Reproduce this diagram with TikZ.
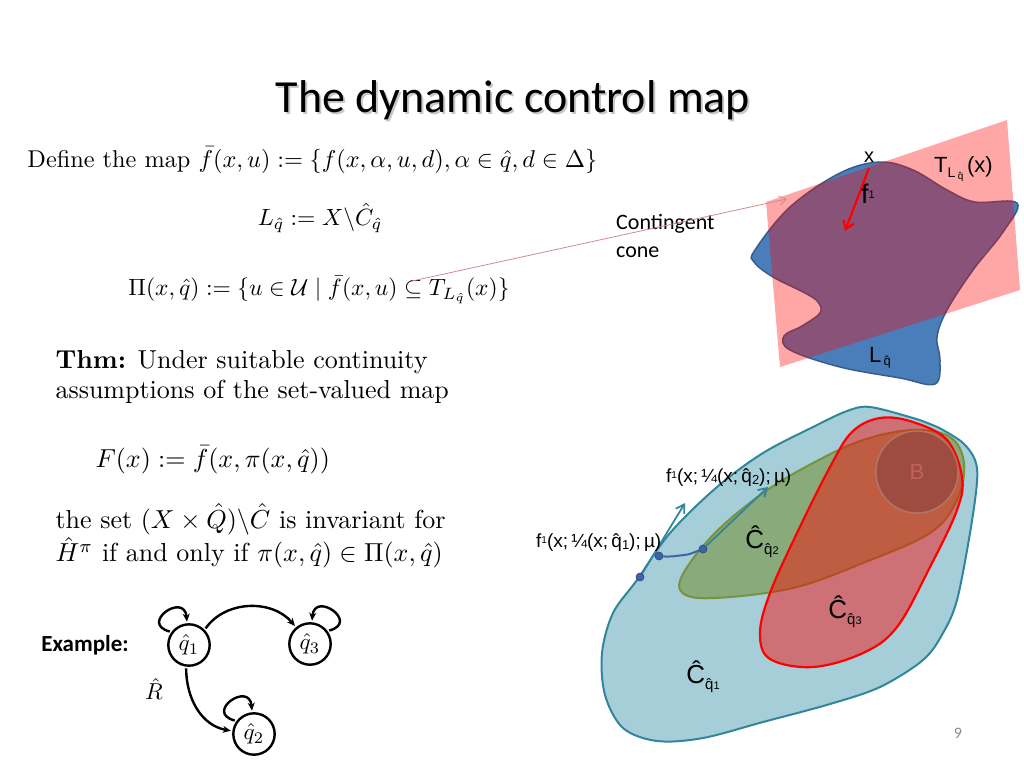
\documentclass[tikz,border=0pt]{standalone}
\usepackage{fontspec}
\usepackage{amssymb}
\usetikzlibrary{arrows.meta,positioning,calc}
\newfontfamily\slidefont{Carlito}
\newfontfamily\figfont{Liberation Sans}
\definecolor{txt}{HTML}{000000}
\definecolor{lqF}{HTML}{4A7EBB}
\definecolor{lqB}{HTML}{385D8A}
\definecolor{tgR}{HTML}{FF0000}
\definecolor{c1F}{HTML}{A5CED8}
\definecolor{c1B}{HTML}{31859C}
\definecolor{c2F}{HTML}{77933C}
\definecolor{c3B}{HTML}{FF0000}
\definecolor{bdF}{HTML}{96483F}
\definecolor{bdT}{HTML}{C0625A}
\definecolor{trB}{HTML}{3C64A8}
\definecolor{ccR}{HTML}{D08C8C}
\definecolor{pgG}{HTML}{8C8C8C}
\newcommand{\qsub}[1]{\raisebox{-6pt}{\fontsize{15}{15}\selectfont\^q\fontsize{11}{11}\selectfont#1}}

\begin{document}
\begin{tikzpicture}[x=1pt,y=-1pt,
  text=txt,
  mth/.style={inner sep=0pt,font=\fontsize{10}{12}\selectfont,scale=2.35,transform shape},
  thm/.style={mth,scale=2.6/2.35,font=\fontsize{10}{11.8}\selectfont},
  fig/.style={inner sep=0pt,font=\figfont\fontsize{19}{19}\selectfont},
  state/.style={circle,draw,line width=2.4pt,minimum size=18pt,inner sep=0pt,
    font=\fontsize{10}{10}\selectfont,scale=2.3,transform shape},
  aut/.style={line width=2.4pt,-{Stealth[length=8pt,width=7pt]}},
  vec/.style={c1B,line width=1.8pt,-{Straight Barb[length=8pt,width=10pt]}},
  dot/.style={circle,fill=trB,draw=trB!70!black,line width=0.6pt,inner sep=0pt,minimum size=8pt},
  ]
\useasboundingbox (0,0) rectangle (1024,768);

% ================= title =================
\node[font=\slidefont\fontsize{46}{46}\selectfont,text=black!22] at (515,102) {The dynamic control map};
\node[font=\slidefont\fontsize{46}{46}\selectfont] (ttl) at (513,100) {The dynamic control map};

% ================= LEFT: definitions =================
\node[mth,scale=2.43/2.35,anchor=west] (def) at (27,160)
  {Define the map $\bar f(x,u):=\{f(x,\alpha,u,d),\alpha\in\hat q,d\in\Delta\}$};
\node[mth] (lq) at (320,218) {$L_{\hat q}:=X\backslash\hat C_{\hat q}$};
\node[mth] (pi) at (319,290) {$\Pi(x,\hat q):=\{u\in\mathcal U\mid\bar f(x,u)\subseteq T_{L_{\hat q}}(x)\}$};

\node[thm,anchor=west,align=left] (thm) at (55,377)
  {\textbf{Thm:} Under suitable continuity\\assumptions of the set-valued map};
\node[thm,anchor=west] (fx) at (95,460) {$F(x):=\bar f(x,\pi(x,\hat q))$};
\node[thm,anchor=west,align=left] (inv) at (55,536)
  {the set $(X\times\hat Q)\backslash\hat C$ is invariant for\\$\hat H^\pi$ if and only if $\pi(x,\hat q)\in\Pi(x,\hat q)$};

% ================= automaton =================
\node[font=\slidefont\bfseries\fontsize{23}{23}\selectfont] (ex) at (85,645) {Example:};
\node[state] (q1) at (189,645) {$\hat q_1$};
\node[state] (q3) at (310,644) {$\hat q_3$};
\node[state] (q2) at (254,734) {$\hat q_2$};
\draw[aut] (q1.45) to[out=55,in=130] (q3.130);
\draw[aut] (q1.-97) to[out=-90,in=170] (q2.172);
\draw[aut] (q1.145) .. controls +(-165:32) and +(-95:30) .. (q1.95);
\draw[aut] (q3.35) .. controls +(-15:32) and +(-85:30) .. (q3.85);
\draw[aut] (q2.145) .. controls +(-165:32) and +(-95:30) .. (q2.95);
\node[mth,scale=2.3/2.35] (rh) at (154,689) {$\hat R$};

% ================= RIGHT TOP: tangent cone =================
\draw[lqB,fill=lqF,line width=1.5pt] plot[smooth cycle,tension=0.6] coordinates {
  (755,250) (790,207) (840,173) (880,162) (913,170) (947,190) (975,202) (1017,203)
  (1003,232) (973,270) (947,310) (937,337) (940,360) (935,384) (900,378) (840,367)
  (790,350) (784,336) (802,326) (820,313) (818,302) (805,293) (773,277) (754,262)};
\fill[tgR,opacity=.35] (766,202) -- (1007,120) -- (1020,290) -- (780,367) -- cycle;
\node[fig,font=\figfont\fontsize{20}{20}\selectfont] (xl) at (869,157) {x};
\coordinate (xpt) at (869,168);
\coordinate (fEnd) at (845,231);
\draw[tgR,line width=2.2pt,-{Straight Barb[length=8pt,width=11pt]}] (xpt) -- (fEnd);
\node[fig,font=\figfont\fontsize{27}{27}\selectfont] (fl) at (868,194) {f\raisebox{5pt}{\fontsize{11}{11}\selectfont 1}};
\node[fig,font=\figfont\fontsize{22}{22}\selectfont,anchor=west] (tl) at (934,169)
  {T\raisebox{-5pt}{\fontsize{14}{14}\selectfont L\,\raisebox{-2pt}{\fontsize{10}{10}\selectfont\^q}}\,(x)};
\node[fig,font=\figfont\fontsize{22}{22}\selectfont,anchor=west] (ll) at (869,358)
  {L\raisebox{-3pt}{\fontsize{13}{13}\selectfont\,\^q}};

\node[inner sep=0pt,anchor=north west,align=left,font=\slidefont\fontsize{22}{28}\selectfont] (cc) at (616,214) {Contingent\\cone};
\coordinate (ccTail) at (412,281);
\coordinate (ccTip) at (787,199);
\draw[ccR,line width=0.8pt,-{Straight Barb[length=7pt,width=9pt]}] (ccTail) -- (ccTip);

% ================= RIGHT BOTTOM: safe sets =================
\draw[c1B,fill=c1F,line width=2pt] plot[smooth cycle,tension=0.55] coordinates {
  (870,407) (913,418) (930,424) (943,430) (963,443) (975,460) (977,482) (970,533) (957,600)
  (943,633) (923,660) (880,687) (830,704) (763,722) (703,738) (657,741) (623,728)
  (605,695) (602,653) (613,613) (637,580) (670,533) (717,487) (763,453) (813,427) (847,411)};
\draw[c2F,fill=c2F,fill opacity=.6,line width=2pt] plot[smooth cycle,tension=0.6] coordinates {
  (681,578) (713,535) (763,493) (813,463) (863,440) (913,430) (950,437) (964,463)
  (957,500) (930,533) (863,563) (797,587) (730,597) (688,596)};
\draw[c3B,fill=c3B,fill opacity=.45,line width=2.2pt] plot[smooth cycle,tension=0.6] coordinates {
  (880,418) (913,422) (947,440) (962,477) (957,510) (930,567) (897,627) (863,653)
  (813,667) (770,659) (760,633) (770,593) (797,533) (830,467) (852,432)};
\node[circle,fill=bdF,fill opacity=.8,text opacity=1,draw=bdF!60!white,draw opacity=.5,line width=1.5pt,
  minimum size=82pt,inner sep=0pt,font=\figfont\fontsize{22}{22}\selectfont,text=bdT] (bd) at (917,472) {B};

\node[dot] (p1) at (640,577) {};
\node[dot] (p2) at (659,556) {};
\node[dot] (p3) at (703,549) {};
\draw[trB,line width=2pt] (p2) to[out=-5,in=185] ($(p2)!0.55!(p3)+(0,3)$) to[out=5,in=200] (p3);
\coordinate (v1) at (685,503);
\coordinate (v2) at (768,487);
\draw[vec] (p1) -- (v1);
\draw[vec] (p3) -- (v2);

\node[fig,font=\figfont\fontsize{19}{19}\selectfont,anchor=west] (lb2) at (666,478)
  {f\raisebox{4pt}{\fontsize{10}{10}\selectfont 1}(x;\,¼(x;\,\^q\raisebox{-2pt}{\fontsize{13}{13}\selectfont 2});\,µ)};
\node[fig,font=\figfont\fontsize{19}{19}\selectfont,anchor=west] (lb1) at (536,543)
  {f\raisebox{4pt}{\fontsize{10}{10}\selectfont 1}(x;\,¼(x;\,\^q\raisebox{-2pt}{\fontsize{13}{13}\selectfont 1});\,µ)};

\node[fig,font=\figfont\fontsize{26}{26}\selectfont] (c2l) at (762,542) {Ĉ\qsub{2}};
\node[fig,font=\figfont\fontsize{26}{26}\selectfont] (c3l) at (845,612) {Ĉ\qsub{3}};
\node[fig,font=\figfont\fontsize{26}{26}\selectfont] (c1l) at (703,677) {Ĉ\qsub{1}};

\node[font=\slidefont\fontsize{16}{16}\selectfont,text=pgG] (pg) at (958,733) {9};
\end{tikzpicture}
\end{document}
